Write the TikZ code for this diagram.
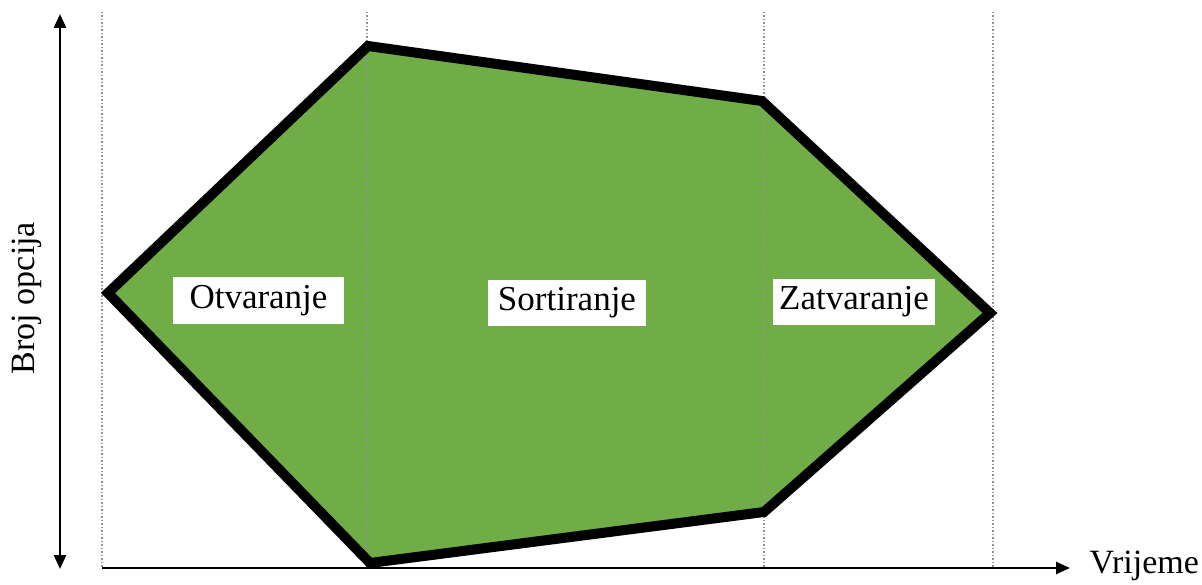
\documentclass[tikz,border=0pt]{standalone}
\usepackage{fontspec}
\setmainfont{Liberation Serif}
\usetikzlibrary{arrows.meta}
\definecolor{phasegreen}{HTML}{70AD47}
\begin{document}
\begin{tikzpicture}[x=1pt,y=-1pt,
  guide/.style={draw=gray!85, line width=1.5pt, dotted},
  axis/.style={draw=black, line width=2.5pt},
  phase/.style={fill=white, inner xsep=10pt, inner ysep=6pt, font=\fontsize{35}{40}\selectfont},
  axislabel/.style={font=\fontsize{34}{40}\selectfont}]
\useasboundingbox (0,0) rectangle (1202,585);
% vertices
\coordinate (L) at (108,293);
\coordinate (TL) at (368,46);
\coordinate (TR) at (762,101);
\coordinate (R) at (990,313);
\coordinate (BR) at (764,512);
\coordinate (BL) at (370,563);
% fill
\fill[phasegreen] (L) -- (TL) -- (TR) -- (R) -- (BR) -- (BL) -- cycle;
% guides
\coordinate (g1t) at (102,12); \coordinate (g1b) at (102,568);
\coordinate (g2t) at (367,12); \coordinate (g2b) at (367,568);
\coordinate (g3t) at (764,12); \coordinate (g3b) at (764,568);
\coordinate (g4t) at (993,12); \coordinate (g4b) at (993,568);
\draw[guide] (g1t) -- (g1b);
\draw[guide] (g2t) -- (g2b);
\draw[guide] (g3t) -- (g3b);
\draw[guide] (g4t) -- (g4b);
% outline
\draw[black, line width=10pt, line join=miter] (L) -- (TL) -- (TR) -- (R) -- (BR) -- (BL) -- cycle;
% axes
\coordinate (ytop) at (60,14);
\coordinate (ybot) at (60,569);
\draw[axis, {Triangle[length=14pt,width=12pt]}-{Triangle[length=14pt,width=12pt]}] (ybot) -- (ytop);
\coordinate (xo) at (102,568);
\coordinate (xend) at (1070,568);
\draw[axis, -{Triangle[length=14pt,width=12pt]}] (xo) -- (xend);
\node[axislabel, anchor=west] (xl) at (1086,566) {Vrijeme};
\node[axislabel, rotate=90] (yl) at (27,298) {Broj opcija};
% phase labels
\node[phase, minimum width=171pt, minimum height=47pt] (otv) at (258.5,300.5) {Otvaranje};
\node[phase, minimum width=158pt, minimum height=46pt] (sor) at (567,303) {Sortiranje};
\node[phase, minimum width=162pt, minimum height=46pt, inner xsep=4pt] (zat) at (854,302) {Zatvaranje};
\end{tikzpicture}
\end{document}
